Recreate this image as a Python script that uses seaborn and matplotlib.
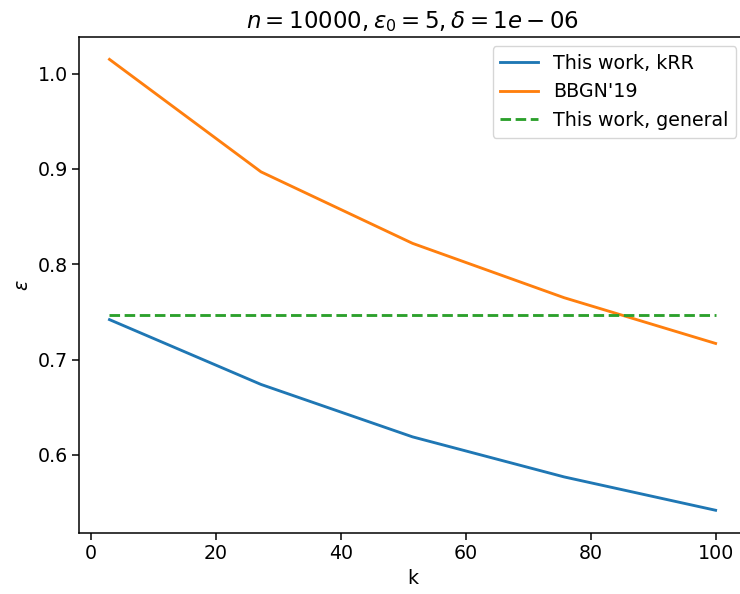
import numpy as np
import pandas as pd
import matplotlib
matplotlib.use("Agg")
import matplotlib.pyplot as plt
import seaborn as sns

# values
k = [3, 27.25, 51.5, 75.75, 100]
eps_krr = [0.742, 0.674, 0.619, 0.577, 0.542]
eps_bbgn = [1.015, 0.897, 0.822, 0.765, 0.717]
eps_general = [0.747, 0.747, 0.747, 0.747, 0.747]

df = pd.DataFrame({"k": k, "krr": eps_krr, "bbgn": eps_bbgn, "general": eps_general})

s = 1.37
plt.rcParams.update({
    "font.size": 10 * s,
    "xtick.major.size": 3.5 * s,
    "ytick.major.size": 3.5 * s,
    "xtick.major.width": 0.8 * s,
    "ytick.major.width": 0.8 * s,
    "axes.linewidth": 0.8 * s,
})
fig, ax = plt.subplots(figsize=(7.4, 5.94), dpi=100)
sns.lineplot(data=df, x="k", y="krr", ax=ax, color="C0", linewidth=1.5 * s, label="This work, kRR")
sns.lineplot(data=df, x="k", y="bbgn", ax=ax, color="C1", linewidth=1.5 * s, label="BBGN'19")
sns.lineplot(data=df, x="k", y="general", ax=ax, color="C2", linewidth=1.5 * s,
             linestyle="--", label="This work, general")

ax.set_title(r"$n=10000, \epsilon_0=5, \delta=1e-06$", fontsize=12 * s)
ax.set_xlabel("k")
ax.set_ylabel(r"$\epsilon$")
ax.set_yticks([0.6, 0.7, 0.8, 0.9, 1.0])
ax.legend(loc="upper right")

fig.subplots_adjust(left=0.107, right=1.008, top=0.938, bottom=0.103)
fig.savefig("out.png", dpi=100)
